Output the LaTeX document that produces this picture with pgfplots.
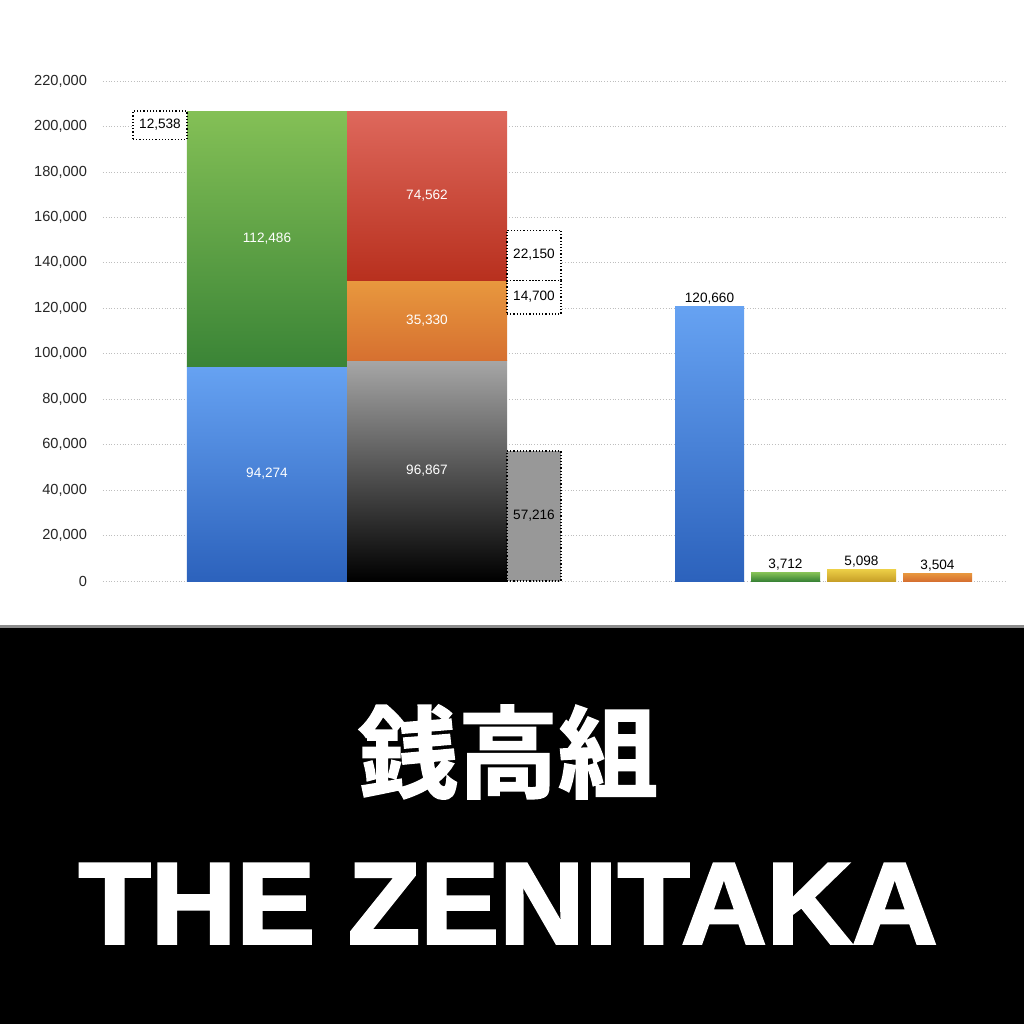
\documentclass[border=0pt]{standalone}
\usepackage{pgfplots}
\pgfplotsset{compat=1.18}
\usepackage{fontspec}
\setmainfont{Liberation Sans}
\newfontfamily\cjk{Noto Sans CJK JP Bold}[FakeBold=1.6]
\newfontfamily\heavy{Liberation Sans Bold}[FakeBold=2.2]

\definecolor{bluetop}{RGB}{102,162,242}
\definecolor{bluebot}{RGB}{44,98,188}
\definecolor{greentop}{RGB}{132,192,86}
\definecolor{greenbot}{RGB}{58,132,54}
\definecolor{redtop}{RGB}{222,104,92}
\definecolor{redbot}{RGB}{184,48,30}
\definecolor{orangetop}{RGB}{232,152,62}
\definecolor{orangebot}{RGB}{214,112,48}
\definecolor{yellowtop}{RGB}{236,206,70}
\definecolor{yellowbot}{RGB}{200,160,40}
\definecolor{greytop}{RGB}{166,166,166}
\definecolor{boxgrey}{RGB}{152,152,152}
\definecolor{gridgrey}{RGB}{190,190,190}

\begin{document}
\begin{tikzpicture}[x=1pt,y=1pt]
\useasboundingbox (-51.5,-221.5) rectangle (460.5,290.5);
\fill[white] (-51.5,-221.5) rectangle (460.5,290.5);
\fill[black] (-51.5,-221.5) rectangle (460.5,-23.5);
\fill[black!45] (-51.5,-23.5) rectangle (460.5,-22.2);
\node[white,font=\cjk\fontsize{50}{50}\selectfont] at (202.5,-85.5) {銭高組};
\node[white,font=\heavy\fontsize{58}{58}\selectfont, xscale=1.02] at (202.5,-161.3) {THE ZENITAKA};

\begin{axis}[
at={(0,0)}, anchor=south west,
scale only axis,
width=451pt, height=250pt,
xmin=103, xmax=1005,
ymin=0, ymax=220000,
clip=false,
axis line style={draw=none},
xtick=\empty,
ytick={0,20000,...,220000},
tick style={draw=none},
scaled y ticks=false,
ymajorgrids,
y grid style={gridgrey, densely dotted, line width=0.4pt},
yticklabel style={font=\fontsize{7.3}{8}\selectfont, color=black!85, xshift=-4.5pt,
  /pgf/number format/.cd, fixed, 1000 sep={,}, assume math mode=true},
]
% left group, first column
\addplot[draw=none, top color=bluetop, bottom color=bluebot] coordinates {(187,0) (347,0) (347,94274) (187,94274)} -- cycle;
\addplot[draw=none, top color=greentop, bottom color=greenbot] coordinates {(187,94274) (347,94274) (347,206760) (187,206760)} -- cycle;
% left group, second column
\addplot[draw=none, top color=greytop, bottom color=black] coordinates {(347,0) (507,0) (507,96867) (347,96867)} -- cycle;
\addplot[draw=none, top color=orangetop, bottom color=orangebot] coordinates {(347,96867) (507,96867) (507,132197) (347,132197)} -- cycle;
\addplot[draw=none, top color=redtop, bottom color=redbot] coordinates {(347,132197) (507,132197) (507,206759) (347,206759)} -- cycle;
% dotted boxes
\addplot[black, densely dotted, line width=0.6pt, fill=boxgrey] coordinates {(507,0) (561,0) (561,57216) (507,57216)} -- cycle;
\addplot[black, densely dotted, line width=0.6pt, fill=white] coordinates {(507,132197) (561,132197) (561,154347) (507,154347)} -- cycle;
\addplot[black, densely dotted, line width=0.6pt, fill=white] coordinates {(507,117497) (561,117497) (561,132197) (507,132197)} -- cycle;
\addplot[black, densely dotted, line width=0.6pt, fill=white] coordinates {(133,194222) (187,194222) (187,206760) (133,206760)} -- cycle;
% right group
\addplot[draw=none, top color=bluetop, bottom color=bluebot] coordinates {(675,0) (744,0) (744,120660) (675,120660)} -- cycle;
\addplot[draw=none, top color=greentop, bottom color=greenbot] coordinates {(751,0) (820,0) (820,3712) (751,3712)} -- cycle;
\addplot[draw=none, top color=yellowtop, bottom color=yellowbot] coordinates {(827,0) (896,0) (896,5098) (827,5098)} -- cycle;
\addplot[draw=none, top color=orangetop, bottom color=orangebot] coordinates {(903,0) (972,0) (972,3504) (903,3504)} -- cycle;

% value labels
\tikzset{lab/.style={font=\fontsize{6.8}{8}\selectfont, inner sep=0pt}}
\node[lab, white] at (axis cs:267,47080) {94,274};
\node[lab, white] at (axis cs:267,150480) {112,486};
\node[lab, white] at (axis cs:427,48400) {96,867};
\node[lab, white] at (axis cs:427,114400) {35,330};
\node[lab, white] at (axis cs:427,169400) {74,562};
\node[lab, black] at (axis cs:160,200640) {12,538};
\node[lab, black] at (axis cs:534,143440) {22,150};
\node[lab, black] at (axis cs:534,124960) {14,700};
\node[lab, black] at (axis cs:534,28600) {57,216};
\node[lab, black] at (axis cs:709.5,124080) {120,660};
\node[lab, black] at (axis cs:785.5,7000) {3,712};
\node[lab, black] at (axis cs:861.5,8400) {5,098};
\node[lab, black] at (axis cs:937.5,6800) {3,504};
\end{axis}
\end{tikzpicture}
\end{document}
